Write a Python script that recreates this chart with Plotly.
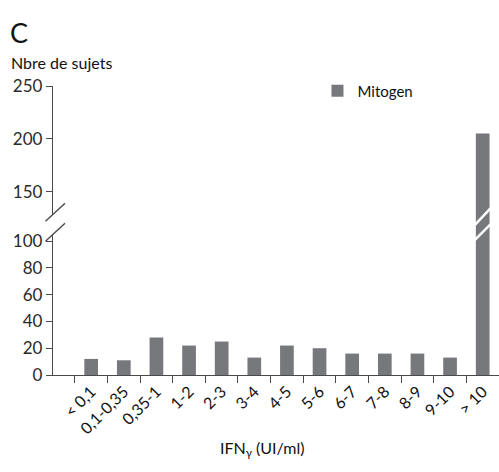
import plotly.graph_objects as go

# IFN-gamma response classes (UI/ml) and number of subjects per class
categories = ["< 0,1", "0,1-0,35", "0,35-1", "1-2", "2-3", "3-4", "4-5",
              "5-6", "6-7", "7-8", "8-9", "9-10", "> 10"]
mitogen = [12, 11, 28, 22, 25, 13, 22, 20, 16, 16, 16, 13, 205]

lower_ticks = [0, 20, 40, 60, 80, 100]
upper_ticks = [150, 200, 250]

FONT = "Lato"
BAR = "#77787c"
AXIS = "#4a4a4a"

W, H = 499, 472
ML, MR, MT, MB = 53, 0, 86, 97
PW, PH = W - ML - MR, H - MT - MB

x_range = [-1.17, 12.5]
split = 0.505                      # boundary between the two y panels
lower_range = [0, 109]
upper_range = [114.5, 250]


def px_x(dx):
    return dx / PW


def px_y(dy):
    return dy / PH


fig = go.Figure()
fig.add_trace(go.Bar(x=categories, y=mitogen, name="Mitogen",
                     marker=dict(color=BAR, line=dict(width=0)),
                     width=0.42, xaxis="x", yaxis="y", showlegend=True))
fig.add_trace(go.Bar(x=categories, y=mitogen, name="Mitogen",
                     marker=dict(color=BAR, line=dict(width=0)),
                     width=0.42, xaxis="x", yaxis="y2", showlegend=False))

axis_common = dict(showline=True, linecolor=AXIS, linewidth=1.3,
                   ticks="outside", ticklen=6, tickwidth=1.3, tickcolor=AXIS,
                   showgrid=False, zeroline=False,
                   tickfont=dict(family=FONT, size=17, color="#2a2a2a"))

fig.update_layout(
    width=W, height=H,
    margin=dict(l=ML, r=MR, t=MT, b=MB),
    paper_bgcolor="white", plot_bgcolor="white",
    xaxis=dict(type="category", range=x_range, anchor="y",
               tickson="boundaries", tickangle=-45,
               showline=True, linecolor=AXIS, linewidth=1.3,
               ticks="outside", ticklen=7, tickwidth=1.3, tickcolor=AXIS,
               showgrid=False, zeroline=False,
               tickfont=dict(family=FONT, size=16, color="#111111")),
    yaxis=dict(domain=[0, split], range=lower_range, anchor="x",
               tickmode="array", tickvals=lower_ticks, **axis_common),
    yaxis2=dict(domain=[split, 1], range=upper_range, anchor="x",
                tickmode="array", tickvals=upper_ticks, **axis_common),
    legend=dict(x=0.593, y=1.04, xanchor="left", yanchor="top",
                bgcolor="rgba(0,0,0,0)",
                font=dict(family=FONT, size=15, color="#111111")),
    showlegend=True,
)

annotations = [
    dict(text="C", xref="paper", yref="paper", x=-ML / PW + px_x(8),
         y=1 + px_y(MT - 32), xanchor="left", yanchor="middle",
         showarrow=False, font=dict(family=FONT, size=27, color="#111111")),
    dict(text="Nbre de sujets", xref="paper", yref="paper",
         x=-ML / PW + px_x(9), y=1 + px_y(MT - 62), xanchor="left",
         yanchor="middle", showarrow=False,
         font=dict(family=FONT, size=16, color="#111111")),
    dict(text="IFN<sub>γ</sub> (UI/ml)", xref="paper", yref="paper",
         x=px_x(262 - ML), y=-px_y(448 - (H - MB)), xanchor="center",
         yanchor="middle", showarrow=False,
         font=dict(family=FONT, size=16, color="#111111")),
]

# axis break on the y axis: blank band between two slashes
sx0, sx1 = px_x(-7.5), px_x(12)
up = [px_y(7.8), px_y(25.8)]       # upper slash: y at left / right end
lo = [px_y(-12.2), px_y(5.8)]      # lower slash
shapes = [
    dict(type="path", xref="paper", yref="paper", layer="above",
         path=f"M{sx0},{split + up[0]} L{sx1},{split + up[1]} "
              f"L{sx1},{split + lo[1]} L{sx0},{split + lo[0]} Z",
         fillcolor="white", line=dict(width=0)),
]
for a, b in (up, lo):
    shapes.append(dict(type="line", xref="paper", yref="paper", layer="above",
                       x0=sx0, y0=split + a, x1=sx1, y1=split + b,
                       line=dict(color=AXIS, width=1.4)))

# matching break across the tallest bar
idx = mitogen.index(max(mitogen))
cx = (idx - x_range[0]) / (x_range[1] - x_range[0])
bx0, bx1 = cx - px_x(8), cx + px_x(8)
for a, b in ((px_y(4), px_y(21)), (px_y(-11), px_y(5))):
    shapes.append(dict(type="line", xref="paper", yref="paper", layer="above",
                       x0=bx0, y0=split + a, x1=bx1, y1=split + b,
                       line=dict(color="white", width=2.5)))

fig.update_layout(annotations=annotations, shapes=shapes)
fig.write_html("out.html")
